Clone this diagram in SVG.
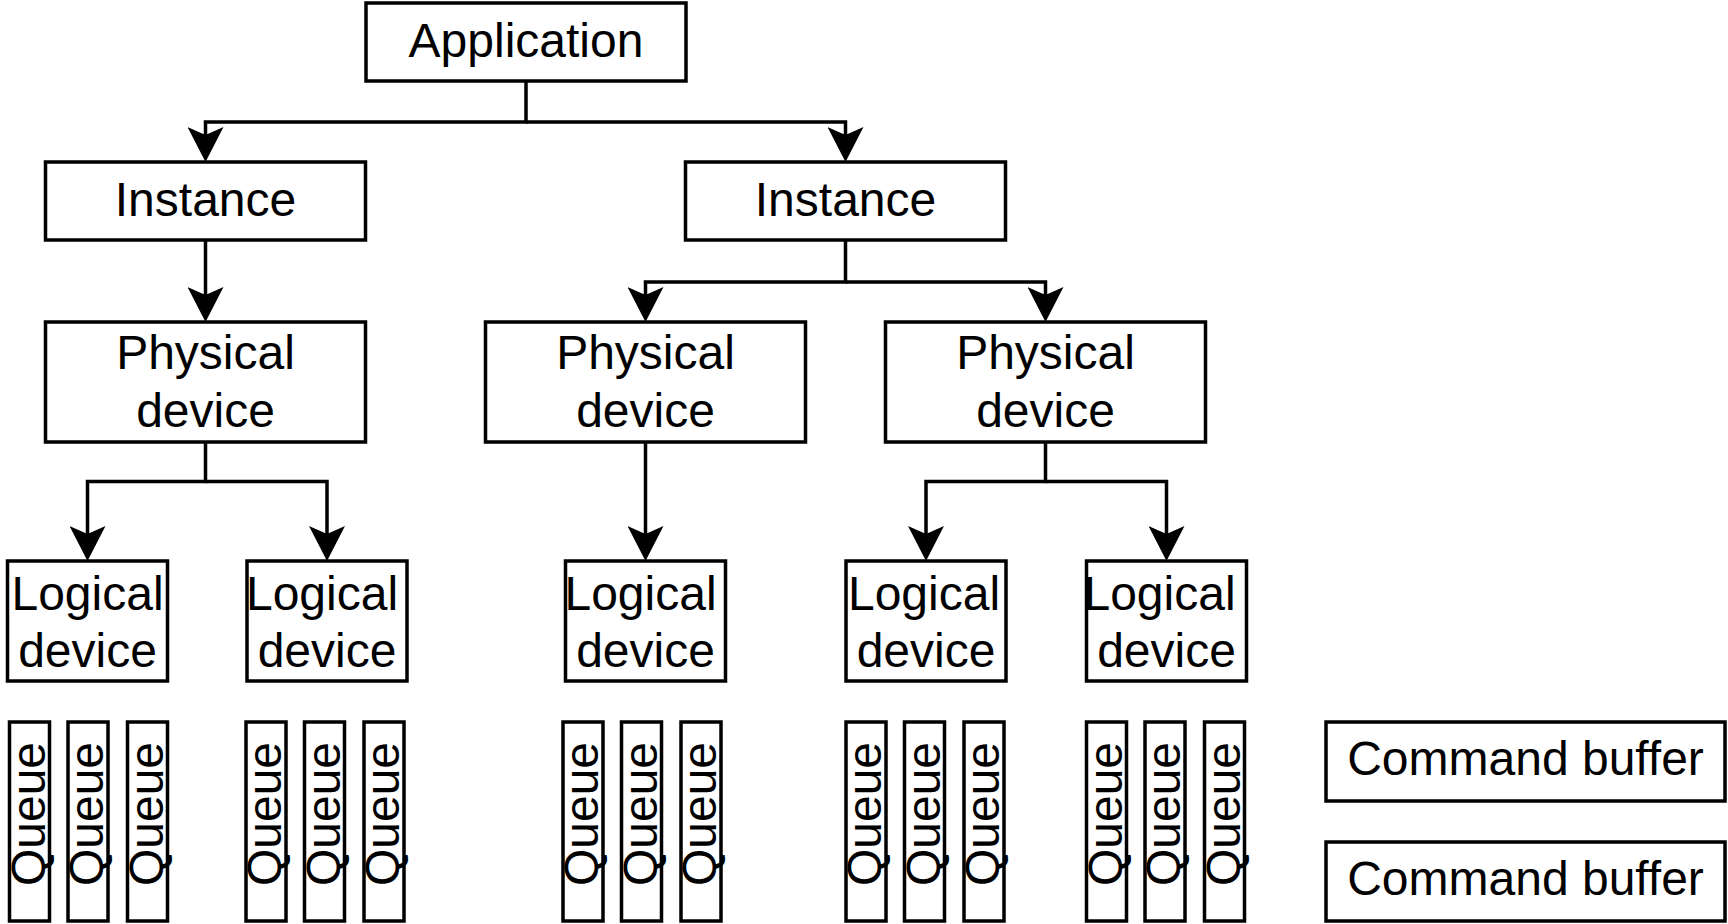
<svg xmlns="http://www.w3.org/2000/svg" width="1728" height="924" viewBox="0 0 1728 924">
<defs>
<style>
rect.b{fill:#fff;stroke:#000;stroke-width:3.5}
text{font-family:"Liberation Sans",Arial,Helvetica,sans-serif;font-size:48px;fill:#000;text-anchor:middle}
path.c{fill:none;stroke:#000;stroke-width:3.5}
</style>
<marker id="ah" markerUnits="userSpaceOnUse" markerWidth="36" markerHeight="36" viewBox="0 0 36 36" refX="8" refY="18" orient="auto">
<path d="M35,18 L0,0 L8,18 L0,36 Z" fill="#000"/>
</marker>
</defs>
<rect width="1728" height="924" fill="#fff"/>
<g id="connectors">
<path class="c" d="M526,81 V122 H205.5 V135" marker-end="url(#ah)"/>
<path class="c" d="M526,122 H845.5 V135" marker-end="url(#ah)"/>
<path class="c" d="M205.5,240 V295" marker-end="url(#ah)"/>
<path class="c" d="M845.5,240 V282 H645.5 V295" marker-end="url(#ah)"/>
<path class="c" d="M845.5,282 H1045.5 V295" marker-end="url(#ah)"/>
<path class="c" d="M205.5,442 V481.5 H87.5 V534" marker-end="url(#ah)"/>
<path class="c" d="M205.5,481.5 H327 V534" marker-end="url(#ah)"/>
<path class="c" d="M645.5,442 V534" marker-end="url(#ah)"/>
<path class="c" d="M1045.5,442 V481.5 H926 V534" marker-end="url(#ah)"/>
<path class="c" d="M1045.5,481.5 H1166.5 V534" marker-end="url(#ah)"/>
</g>
<g id="application"><rect class="b" x="366" y="3" width="320" height="78"/><text x="526" y="57">Application</text></g>
<g id="instance1"><rect class="b" x="45.5" y="162" width="320" height="78"/><text x="205.5" y="216">Instance</text></g>
<g id="instance2"><rect class="b" x="685.5" y="162" width="320" height="78"/><text x="845.5" y="216">Instance</text></g>
<g id="physical1"><rect class="b" x="45.5" y="322" width="320" height="120"/><text x="205.5" y="369">Physical</text><text x="205.5" y="427">device</text></g>
<g id="physical2"><rect class="b" x="485.5" y="322" width="320" height="120"/><text x="645.5" y="369">Physical</text><text x="645.5" y="427">device</text></g>
<g id="physical3"><rect class="b" x="885.5" y="322" width="320" height="120"/><text x="1045.5" y="369">Physical</text><text x="1045.5" y="427">device</text></g>
<g id="logical1"><rect class="b" x="7.5" y="561" width="160" height="120"/><text x="87.5" y="610">Logical</text><text x="87.5" y="667">device</text></g>
<g id="logical2"><rect class="b" x="247" y="561" width="160" height="120"/><text x="322" y="610">Logical</text><text x="327" y="667">device</text></g>
<g id="logical3"><rect class="b" x="565.5" y="561" width="160" height="120"/><text x="640.5" y="610">Logical</text><text x="645.5" y="667">device</text></g>
<g id="logical4"><rect class="b" x="846" y="561" width="160" height="120"/><text x="924" y="610">Logical</text><text x="926" y="667">device</text></g>
<g id="logical5"><rect class="b" x="1086.5" y="561" width="160" height="120"/><text x="1159.5" y="610">Logical</text><text x="1166.5" y="667">device</text></g>
<g id="queues1">
<g id="q1"><rect class="b" x="9.5" y="722" width="40" height="199"/><text transform="translate(29.5,814) rotate(-90)" y="15">Queue</text></g>
<g id="q2"><rect class="b" x="68" y="722" width="40" height="199"/><text transform="translate(88,814) rotate(-90)" y="15">Queue</text></g>
<g id="q3"><rect class="b" x="127.5" y="722" width="40" height="199"/><text transform="translate(147.5,814) rotate(-90)" y="15">Queue</text></g>
</g>
<g id="queues2">
<g id="q4"><rect class="b" x="246" y="722" width="40" height="199"/><text transform="translate(266,814) rotate(-90)" y="15">Queue</text></g>
<g id="q5"><rect class="b" x="304.5" y="722" width="40" height="199"/><text transform="translate(324.5,814) rotate(-90)" y="15">Queue</text></g>
<g id="q6"><rect class="b" x="364" y="722" width="40" height="199"/><text transform="translate(384,814) rotate(-90)" y="15">Queue</text></g>
</g>
<g id="queues3">
<g id="q7"><rect class="b" x="563" y="722" width="40" height="199"/><text transform="translate(583,814) rotate(-90)" y="15">Queue</text></g>
<g id="q8"><rect class="b" x="621.5" y="722" width="40" height="199"/><text transform="translate(641.5,814) rotate(-90)" y="15">Queue</text></g>
<g id="q9"><rect class="b" x="681" y="722" width="40" height="199"/><text transform="translate(701,814) rotate(-90)" y="15">Queue</text></g>
</g>
<g id="queues4">
<g id="q10"><rect class="b" x="846" y="722" width="40" height="199"/><text transform="translate(866,814) rotate(-90)" y="15">Queue</text></g>
<g id="q11"><rect class="b" x="904.5" y="722" width="40" height="199"/><text transform="translate(924.5,814) rotate(-90)" y="15">Queue</text></g>
<g id="q12"><rect class="b" x="964" y="722" width="40" height="199"/><text transform="translate(984,814) rotate(-90)" y="15">Queue</text></g>
</g>
<g id="queues5">
<g id="q13"><rect class="b" x="1086.5" y="722" width="40" height="199"/><text transform="translate(1106.5,814) rotate(-90)" y="15">Queue</text></g>
<g id="q14"><rect class="b" x="1145" y="722" width="40" height="199"/><text transform="translate(1165,814) rotate(-90)" y="15">Queue</text></g>
<g id="q15"><rect class="b" x="1204.5" y="722" width="40" height="199"/><text transform="translate(1224.5,814) rotate(-90)" y="15">Queue</text></g>
</g>
<g id="cmdbuf1"><rect class="b" x="1326" y="722" width="399" height="79"/><text x="1525.5" y="775">Command buffer</text></g>
<g id="cmdbuf2"><rect class="b" x="1326" y="842" width="399" height="79"/><text x="1525.5" y="895">Command buffer</text></g>
</svg>
